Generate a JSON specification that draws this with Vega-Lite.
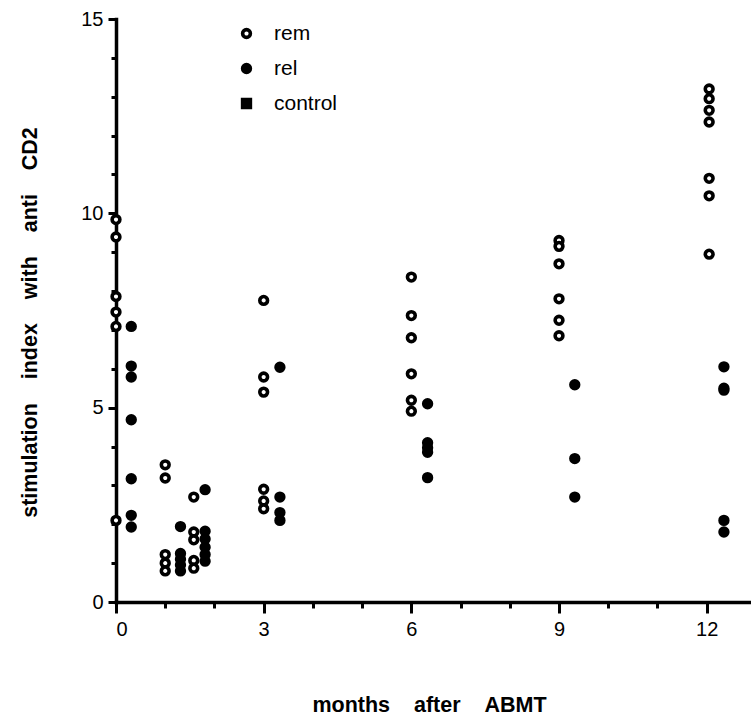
{
  "$schema": "https://vega.github.io/schema/vega-lite/v6.json",
  "width": 635,
  "height": 583,
  "autosize": "none",
  "padding": {"left": 116, "top": 19, "right": 0, "bottom": 117},
  "background": "white",
  "config": {
    "view": {"stroke": null},
    "font": "Liberation Sans"
  },
  "data": {
    "values": [
      {"m": 0.0, "si": 9.84, "g": "rem"},
      {"m": 0.0, "si": 9.39, "g": "rem"},
      {"m": 0.0, "si": 7.86, "g": "rem"},
      {"m": 0.0, "si": 7.46, "g": "rem"},
      {"m": 0.0, "si": 7.09, "g": "rem"},
      {"m": 0.0, "si": 2.10, "g": "rem"},
      {"m": 1.0, "si": 3.53, "g": "rem"},
      {"m": 1.0, "si": 3.19, "g": "rem"},
      {"m": 1.0, "si": 1.22, "g": "rem"},
      {"m": 1.0, "si": 1.0, "g": "rem"},
      {"m": 1.0, "si": 0.8, "g": "rem"},
      {"m": 1.58, "si": 2.70, "g": "rem"},
      {"m": 1.58, "si": 1.80, "g": "rem"},
      {"m": 1.58, "si": 1.60, "g": "rem"},
      {"m": 1.58, "si": 1.07, "g": "rem"},
      {"m": 1.58, "si": 0.87, "g": "rem"},
      {"m": 3.0, "si": 7.76, "g": "rem"},
      {"m": 3.0, "si": 5.79, "g": "rem"},
      {"m": 3.0, "si": 5.40, "g": "rem"},
      {"m": 3.0, "si": 2.9, "g": "rem"},
      {"m": 3.0, "si": 2.6, "g": "rem"},
      {"m": 3.0, "si": 2.4, "g": "rem"},
      {"m": 6.0, "si": 8.36, "g": "rem"},
      {"m": 6.0, "si": 7.37, "g": "rem"},
      {"m": 6.0, "si": 6.80, "g": "rem"},
      {"m": 6.0, "si": 5.87, "g": "rem"},
      {"m": 6.0, "si": 5.19, "g": "rem"},
      {"m": 6.0, "si": 4.91, "g": "rem"},
      {"m": 9.0, "si": 9.3, "g": "rem"},
      {"m": 9.0, "si": 9.15, "g": "rem"},
      {"m": 9.0, "si": 8.7, "g": "rem"},
      {"m": 9.0, "si": 7.8, "g": "rem"},
      {"m": 9.0, "si": 7.25, "g": "rem"},
      {"m": 9.0, "si": 6.85, "g": "rem"},
      {"m": 12.05, "si": 13.2, "g": "rem"},
      {"m": 12.05, "si": 12.95, "g": "rem"},
      {"m": 12.05, "si": 12.65, "g": "rem"},
      {"m": 12.05, "si": 12.35, "g": "rem"},
      {"m": 12.05, "si": 10.9, "g": "rem"},
      {"m": 12.05, "si": 10.45, "g": "rem"},
      {"m": 12.05, "si": 8.95, "g": "rem"},
      {"m": 0.31, "si": 7.09, "g": "rel"},
      {"m": 0.31, "si": 6.07, "g": "rel"},
      {"m": 0.31, "si": 5.79, "g": "rel"},
      {"m": 0.31, "si": 4.69, "g": "rel"},
      {"m": 0.31, "si": 3.17, "g": "rel"},
      {"m": 0.31, "si": 2.23, "g": "rel"},
      {"m": 0.31, "si": 1.93, "g": "rel"},
      {"m": 1.31, "si": 1.94, "g": "rel"},
      {"m": 1.31, "si": 1.25, "g": "rel"},
      {"m": 1.31, "si": 1.1, "g": "rel"},
      {"m": 1.31, "si": 0.95, "g": "rel"},
      {"m": 1.31, "si": 0.8, "g": "rel"},
      {"m": 1.81, "si": 2.89, "g": "rel"},
      {"m": 1.81, "si": 1.82, "g": "rel"},
      {"m": 1.81, "si": 1.62, "g": "rel"},
      {"m": 1.81, "si": 1.41, "g": "rel"},
      {"m": 1.81, "si": 1.22, "g": "rel"},
      {"m": 1.81, "si": 1.05, "g": "rel"},
      {"m": 3.33, "si": 6.04, "g": "rel"},
      {"m": 3.33, "si": 2.7, "g": "rel"},
      {"m": 3.33, "si": 2.3, "g": "rel"},
      {"m": 3.33, "si": 2.1, "g": "rel"},
      {"m": 6.33, "si": 5.1, "g": "rel"},
      {"m": 6.33, "si": 4.1, "g": "rel"},
      {"m": 6.33, "si": 3.97, "g": "rel"},
      {"m": 6.33, "si": 3.85, "g": "rel"},
      {"m": 6.33, "si": 3.2, "g": "rel"},
      {"m": 9.32, "si": 5.59, "g": "rel"},
      {"m": 9.32, "si": 3.69, "g": "rel"},
      {"m": 9.32, "si": 2.70, "g": "rel"},
      {"m": 12.35, "si": 6.05, "g": "rel"},
      {"m": 12.35, "si": 5.5, "g": "rel"},
      {"m": 12.35, "si": 5.45, "g": "rel"},
      {"m": 12.35, "si": 2.1, "g": "rel"},
      {"m": 12.35, "si": 1.8, "g": "rel"}
    ]
  },
  "mark": {"type": "point", "filled": false, "size": 60, "stroke": "black", "strokeWidth": 3.6, "opacity": 1, "clip": false},
  "encoding": {
    "x": {
      "field": "m", "type": "quantitative",
      "scale": {"domain": [0, 12.9], "nice": false, "zero": false},
      "axis": {
        "values": [0,1,2,3,4,5,6,7,8,9,10,11,12],
        "labelExpr": "datum.value % 3 === 0 ? datum.label : ''",
        "grid": false,
        "domainColor": "black", "domainWidth": 3.5, "domainCap": "square",
        "tickColor": "black", "tickWidth": 3,
        "tickSize": {"condition": {"test": "datum.value % 3 === 0", "value": 11}, "value": 6},
        "labelFontSize": 20, "labelColor": "black", "labelPadding": 6, "labelFont": "Liberation Sans",
        "title": "months\u00a0\u00a0\u00a0\u00a0after\u00a0\u00a0\u00a0\u00a0ABMT",
        "titleFontSize": 21.5, "titleFontWeight": "bold", "titleColor": "black", "titleFont": "Liberation Sans",
        "titleX": 313, "titleY": 103, "titleBaseline": "middle", "titleAlign": "center"
      }
    },
    "y": {
      "field": "si", "type": "quantitative",
      "scale": {"domain": [0, 15], "nice": false},
      "axis": {
        "values": [0,1,2,3,4,5,6,7,8,9,10,11,12,13,14,15],
        "labelExpr": "datum.value % 5 === 0 ? datum.label : ''",
        "grid": false,
        "domainColor": "black", "domainWidth": 3.5, "domainCap": "square",
        "tickColor": "black", "tickWidth": 3,
        "tickSize": {"condition": {"test": "datum.value % 5 === 0", "value": 8}, "value": 5},
        "labelFontSize": 20, "labelColor": "black", "labelPadding": 5, "labelFont": "Liberation Sans",
        "title": "stimulation\u00a0\u00a0\u00a0\u00a0index\u00a0\u00a0\u00a0\u00a0with\u00a0\u00a0\u00a0\u00a0anti\u00a0\u00a0\u00a0\u00a0CD2",
        "titleFontSize": 21.5, "titleFontWeight": "bold", "titleColor": "black", "titleFont": "Liberation Sans",
        "titleAngle": -90, "titleX": -86, "titleY": 303, "titleBaseline": "middle", "titleAlign": "center"
      }
    },
    "shape": {
      "field": "g", "type": "nominal",
      "scale": {"domain": ["rem", "rel", "control"], "range": ["circle", "circle", "square"]},
      "legend": {
        "orient": "none", "legendX": 120, "legendY": 4, "title": null,
        "labelFontSize": 21, "labelColor": "black", "labelFont": "Liberation Sans",
        "labelOffset": 17, "rowPadding": 12, "symbolSize": 60, "symbolStrokeWidth": 3.6
      }
    },
    "fill": {
      "field": "g", "type": "nominal",
      "scale": {"domain": ["rem", "rel", "control"], "range": ["white", "black", "black"]},
      "legend": {
        "orient": "none", "legendX": 120, "legendY": 4, "title": null,
        "labelFontSize": 21, "labelColor": "black", "labelFont": "Liberation Sans",
        "labelOffset": 17, "rowPadding": 12, "symbolSize": 60, "symbolStrokeWidth": 3.6
      }
    }
  }
}
